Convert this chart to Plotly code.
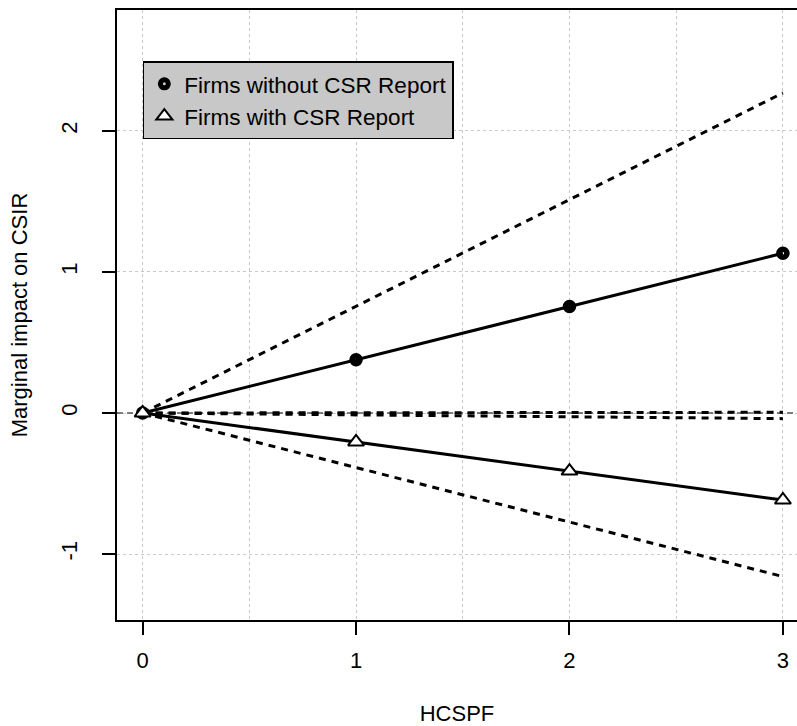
import plotly.graph_objects as go

# Data
hcspf = [0, 1, 2, 3]
without_est = [0.0, 0.377, 0.755, 1.133]
without_upper = [0.0, 0.757, 1.513, 2.27]
without_lower = [0.0, -0.013, -0.027, -0.04]
with_est = [0.0, -0.205, -0.412, -0.617]
with_upper = [0.0, 0.002, 0.004, 0.005]
with_lower = [0.0, -0.387, -0.773, -1.16]
legend_names = ["Firms without CSR Report", "Firms with CSR Report"]
x_ticks = [0, 1, 2, 3]
y_ticks = [-1, 0, 1, 2]

FONT = "Liberation Sans, Arial, sans-serif"

fig = go.Figure()

# zero reference line
fig.add_trace(go.Scatter(x=[-0.12, 3.2], y=[0, 0], mode="lines",
                         line=dict(color="#555555", width=1.5, dash="6px,4px"),
                         showlegend=False, hoverinfo="skip"))

# confidence bands (dashed)
for ys in (without_upper, without_lower, with_upper, with_lower):
    fig.add_trace(go.Scatter(x=hcspf, y=ys, mode="lines",
                             line=dict(color="black", width=3, dash="7px,6px"),
                             showlegend=False, hoverinfo="skip"))

# estimate lines (solid)
for ys in (without_est, with_est):
    fig.add_trace(go.Scatter(x=hcspf, y=ys, mode="lines",
                             line=dict(color="black", width=3),
                             showlegend=False, hoverinfo="skip"))

# markers
fig.add_trace(go.Scatter(x=hcspf, y=without_est, mode="markers", name=legend_names[0],
                         marker=dict(symbol="circle-open", size=8, color="black",
                                     line=dict(width=5.5, color="black"))))
fig.add_trace(go.Scatter(x=hcspf, y=with_est, mode="markers", name=legend_names[1],
                         marker=dict(symbol="triangle-up", size=14, color="white",
                                     line=dict(width=2, color="black"))))

grid = dict(showgrid=True, gridcolor="#c8c8c8", gridwidth=1, griddash="dot")

fig.update_layout(
    width=797, height=726,
    margin=dict(l=117, r=0, t=10, b=106),
    plot_bgcolor="white", paper_bgcolor="white",
    font=dict(family=FONT, size=22, color="black"),
    showlegend=True,
    legend=dict(x=0.038, y=0.916, xanchor="left", yanchor="top",
                bgcolor="#c8c8c8", bordercolor="black", borderwidth=1.5,
                font=dict(size=22.5), itemwidth=30, tracegroupgap=0),
    xaxis=dict(range=[-0.12, 3.066], tickvals=x_ticks, ticks="outside", ticklen=13,
               tickwidth=1.5, tickcolor="black", showline=True, linecolor="black",
               linewidth=1.5, mirror=True, zeroline=False, ticklabelstandoff=7,
               automargin=False,
               minor=dict(dtick=0.5, tick0=0, showgrid=True, gridcolor="#c8c8c8",
                          griddash="dot", ticks=""),
               title=dict(text="HCSPF", standoff=45, font=dict(size=22)),
               **grid),
    yaxis=dict(range=[-1.468, 2.858], tickvals=y_ticks, ticktext=[str(v) for v in y_ticks],
               ticks="outside", ticklen=13, tickwidth=1.5, tickcolor="black",
               tickangle=-90, showline=True, linecolor="black", linewidth=1.5,
               zeroline=False, ticklabelstandoff=16, automargin=False,
               title=dict(text="Marginal impact on CSIR", standoff=24, font=dict(size=22)),
               **grid),
)

fig.write_html("out.html")
